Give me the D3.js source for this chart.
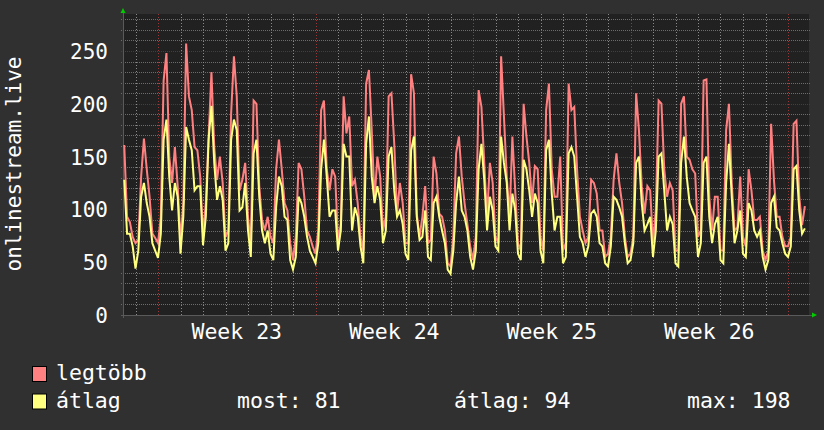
<!DOCTYPE html>
<meta charset="utf-8">
<script src="https://d3js.org/d3.v7.min.js"></script>
<style>
  body { margin: 0; background: #303030; }
  text { font-family: "DejaVu Sans Mono", monospace; fill: #ffffff; }
</style>
<div id="chart"></div>
<script>

// samples every 3 hours, first one is Sat 31 May 12:00
var firstSample = new Date(2014, 4, 31, 12, 0);
var stepHours = 3;

// "legtöbb" (max), one row per day
var legtobb = [
  161, 93, 88, 74,
  68, 71, 131, 167, 138, 112, 77, 73,
  68, 93, 222, 248, 150, 125, 159, 122,
  71, 106, 257, 207, 194, 159, 156, 131,
  77, 106, 169, 230, 159, 128, 150, 125,
  74, 80, 191, 245, 207, 118, 128, 144,
  93, 68, 203, 200, 122, 90, 80, 93,
  74, 68, 138, 166, 138, 106, 99, 68,
  52, 74, 144, 138, 112, 80, 74, 65,
  58, 80, 194, 203, 138, 118, 138, 131,
  71, 86, 207, 172, 188, 122, 128, 106,
  74, 61, 219, 232, 175, 109, 150, 131,
  80, 93, 207, 210, 162, 96, 125, 106,
  68, 68, 228, 210, 96, 74, 93, 122,
  68, 71, 150, 134, 96, 93, 80, 49,
  46, 74, 153, 169, 131, 106, 86, 65,
  52, 74, 213, 197, 144, 93, 144, 125,
  74, 68, 245, 188, 131, 93, 169, 118,
  68, 61, 200, 169, 144, 106, 141, 138,
  74, 61, 194, 219, 138, 112, 112, 150,
  61, 68, 219, 194, 197, 138, 93, 80,
  68, 74, 128, 125, 115, 80, 80, 55,
  58, 74, 128, 153, 125, 106, 74, 55,
  58, 74, 210, 175, 122, 96, 122, 118,
  68, 99, 203, 200, 138, 112, 125, 118,
  61, 61, 200, 207, 150, 147, 138, 134,
  74, 80, 222, 223, 112, 80, 112, 112,
  61, 61, 175, 200, 125, 80, 83, 131,
  74, 65, 138, 118, 90, 90, 93, 61,
  52, 61, 181, 128, 93, 93, 74, 65,
  65, 74, 181, 184, 112, 85, 103
];

// "átlag" (average)
var atlag = [
  128, 77, 77, 65,
  44, 61, 112, 125, 106, 93, 68, 61,
  54, 77, 166, 185, 131, 99, 125, 112,
  58, 93, 178, 166, 156, 118, 122, 122,
  66, 93, 166, 198, 144, 109, 122, 109,
  61, 68, 166, 185, 175, 99, 102, 125,
  80, 55, 153, 166, 112, 80, 68, 80,
  58, 52, 102, 131, 122, 93, 90, 52,
  43, 55, 112, 106, 93, 74, 61, 55,
  49, 68, 138, 166, 131, 93, 99, 99,
  61, 80, 162, 150, 150, 80, 102, 93,
  65, 49, 162, 188, 131, 106, 122, 109,
  68, 80, 150, 159, 118, 93, 99, 86,
  58, 52, 156, 169, 93, 71, 74, 99,
  55, 52, 106, 112, 93, 80, 68, 43,
  39, 61, 106, 131, 99, 93, 80, 55,
  43, 61, 138, 162, 128, 80, 112, 99,
  65, 61, 169, 144, 125, 80, 115, 99,
  58, 52, 147, 138, 118, 93, 115, 106,
  61, 49, 156, 166, 115, 80, 93, 93,
  49, 55, 153, 159, 150, 112, 74, 68,
  55, 65, 96, 99, 93, 68, 65, 49,
  46, 65, 112, 109, 102, 93, 68, 49,
  52, 68, 144, 150, 106, 80, 86, 93,
  55, 80, 150, 153, 118, 80, 93, 86,
  49, 46, 144, 169, 131, 106, 99, 93,
  55, 68, 144, 150, 93, 68, 86, 93,
  52, 49, 125, 162, 112, 68, 80, 99,
  58, 55, 106, 99, 80, 74, 80, 55,
  43, 52, 106, 112, 83, 80, 68, 58,
  55, 65, 138, 141, 99, 77, 82
];

var yTicks = [0, 50, 100, 150, 200, 250];
var weekLabels = ["Week 23", "Week 24", "Week 25", "Week 26"];
var seriesNames = ["legtöbb", "átlag"];
var seriesColors = ["#ff8080", "#ffff80"];
var statLabels = ["most: 81", "átlag: 94", "max: 198"];
var yTitle = "onlinestream.live";

var width = 824, height = 430;
var plot = {left: 123, right: 809, top: 14, bottom: 315};

var svg = d3.select("#chart")
  .append("svg")
    .attr("width", width)
    .attr("height", height);

svg.append("rect")
    .attr("width", width)
    .attr("height", height)
    .attr("fill", "#303030");

var x = d3.scaleTime()
    .domain([new Date(2014, 4, 31, 10, 40), new Date(2014, 5, 30, 22, 24)])
    .range([plot.left, plot.right]);

var y = d3.scaleLinear()
    .domain([0, 285])
    .range([plot.bottom, plot.top]);

// canvas
svg.append("rect")
    .attr("x", plot.left)
    .attr("y", plot.top)
    .attr("width", plot.right - plot.left)
    .attr("height", plot.bottom - plot.top)
    .attr("fill", "#212121");

var grid = svg.append("g");
var minorColor = "#6c6c6c", majorColor = "#702c2c";

// horizontal grid, minor every 10, major every 50
var hMinor = d3.range(10, 285, 10).filter(function(v) { return v % 50 != 0; });
grid.selectAll(".hminor")
  .data(hMinor)
  .enter().append("line")
    .attr("x1", plot.left - 2)
    .attr("x2", plot.right + 2)
    .attr("y1", function(d) { return Math.round(y(d)) + 0.5; })
    .attr("y2", function(d) { return Math.round(y(d)) + 0.5; })
    .attr("stroke", minorColor)
    .attr("stroke-dasharray", "1,1");

grid.selectAll(".hmajor")
  .data(yTicks.slice(1))
  .enter().append("line")
    .attr("x1", plot.left - 2)
    .attr("x2", plot.right + 2)
    .attr("y1", function(d) { return Math.round(y(d)) + 0.5; })
    .attr("y2", function(d) { return Math.round(y(d)) + 0.5; })
    .attr("stroke", majorColor)
    .attr("stroke-dasharray", "1,1");

// vertical grid, minor every day, major every monday
var days = d3.timeDay.range(x.domain()[0], x.domain()[1]).filter(function(d) { return d.getDay() != 1; });
var mondays = d3.timeMonday.range(x.domain()[0], x.domain()[1]);

grid.selectAll(".vminor")
  .data(days)
  .enter().append("line")
    .attr("x1", function(d) { return Math.round(x(d)) + 0.5; })
    .attr("x2", function(d) { return Math.round(x(d)) + 0.5; })
    .attr("y1", plot.top)
    .attr("y2", plot.bottom + 2)
    .attr("stroke", "#8a8a8a")
    .attr("stroke-dasharray", "1,2");

grid.selectAll(".vmajor")
  .data(mondays)
  .enter().append("line")
    .attr("x1", function(d) { return Math.round(x(d)) + 0.5; })
    .attr("x2", function(d) { return Math.round(x(d)) + 0.5; })
    .attr("y1", plot.top)
    .attr("y2", plot.bottom + 2)
    .attr("stroke", "#983838")
    .attr("stroke-dasharray", "1,2");

// axis lines
grid.append("line")
    .attr("x1", plot.left - 2).attr("x2", plot.right + 3)
    .attr("y1", plot.bottom + 0.5).attr("y2", plot.bottom + 0.5)
    .attr("stroke", "#5a5a5a");
grid.append("line")
    .attr("x1", plot.left + 0.5).attr("x2", plot.left + 0.5)
    .attr("y1", plot.top - 4).attr("y2", plot.bottom + 3)
    .attr("stroke", "#5a5a5a");

// arrows
svg.append("path")
    .attr("d", "M120.5,13 L125.5,13 L123,8 Z")
    .attr("fill", "#00cc00");
svg.append("path")
    .attr("d", "M812,312.5 L812,317.5 L817,315 Z")
    .attr("fill", "#00cc00");

// lines
function timeOf(i) {
  return new Date(firstSample.getTime() + i * stepHours * 3600 * 1000);
}
var line = d3.line()
    .x(function(d, i) { return x(timeOf(i)); })
    .y(function(d) { return y(d); });

[legtobb, atlag].forEach(function(series, k) {
  svg.append("path")
      .datum(series)
      .attr("d", line)
      .attr("fill", "none")
      .attr("stroke", seriesColors[k])
      .attr("stroke-width", 2)
      .attr("stroke-linejoin", "miter");
});

// y labels
svg.selectAll(".ylabel")
  .data(yTicks)
  .enter().append("text")
    .attr("x", 108)
    .attr("y", function(d) { return y(d) + 8; })
    .attr("text-anchor", "end")
    .attr("font-size", "21px")
    .text(function(d) { return d; });

// week labels, centred mid-week
svg.selectAll(".xlabel")
  .data(mondays.slice(0, weekLabels.length))
  .enter().append("text")
    .attr("x", function(d) { return x(d3.timeHour.offset(d, 84)); })
    .attr("y", 338.5)
    .attr("text-anchor", "middle")
    .attr("font-size", "21.5px")
    .text(function(d, i) { return weekLabels[i]; });

// y title
svg.append("text")
    .attr("transform", "translate(21,164) rotate(-90)")
    .attr("text-anchor", "middle")
    .attr("font-size", "21px")
    .text(yTitle);

// legend
var legend = svg.append("g");
seriesNames.forEach(function(name, i) {
  var yy = 366 + i * 27.5;
  legend.append("rect")
      .attr("x", 32.5).attr("y", yy + 0.5)
      .attr("width", 14).attr("height", 15)
      .attr("fill", seriesColors[i])
      .attr("stroke", "#000");
  legend.append("text")
      .attr("x", 56)
      .attr("y", yy + 14)
      .attr("font-size", "21.5px")
      .text(name);
});
var statX = [237, 454, 687];
statLabels.forEach(function(s, i) {
  legend.append("text")
      .attr("x", statX[i])
      .attr("y", 366 + 27.5 + 14)
      .attr("font-size", "21.5px")
      .text(s);
});

</script>
